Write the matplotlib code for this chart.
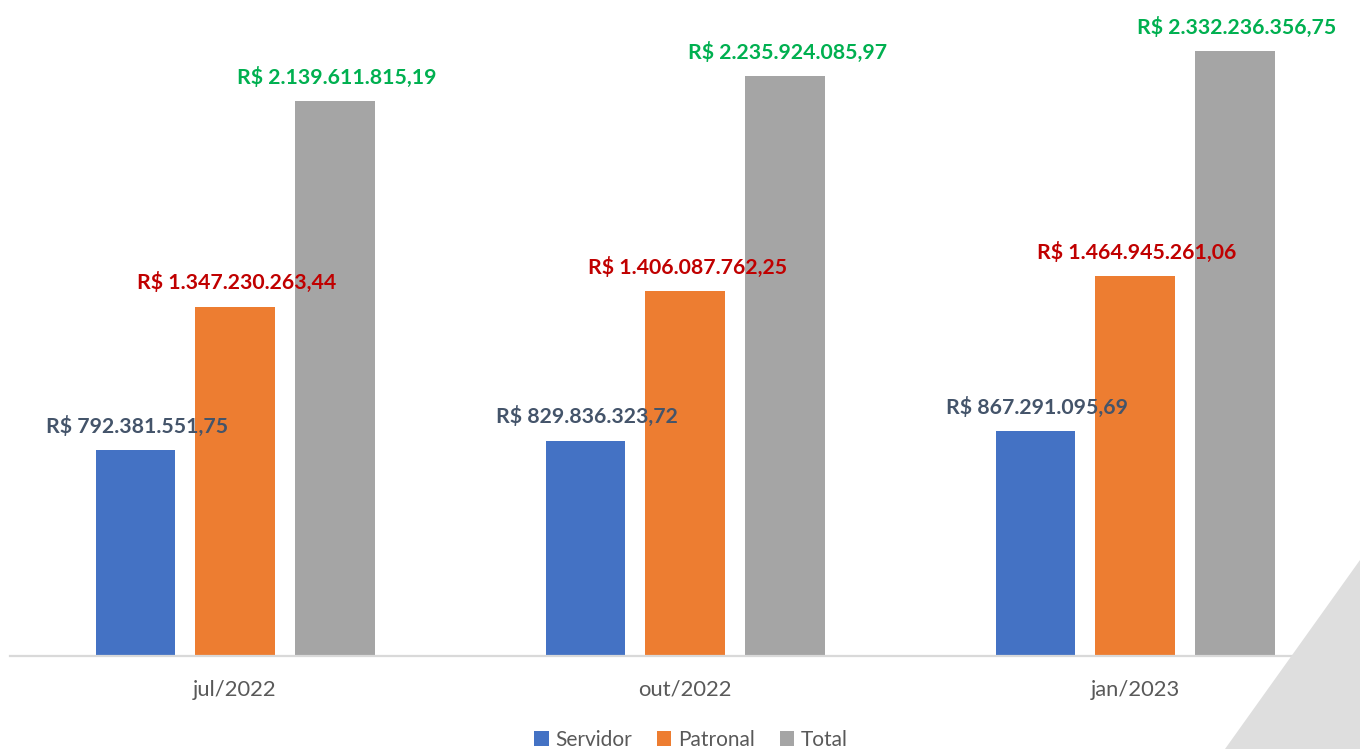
import matplotlib.pyplot as plt
from matplotlib.patches import Polygon
import numpy as np

# data
periods = ["jul/2022", "out/2022", "jan/2023"]
servidor = [792381551.75, 829836323.72, 867291095.69]
patronal = [1347230263.44, 1406087762.25, 1464945261.06]
total = [2139611815.19, 2235924085.97, 2332236356.75]

series_names = ["Servidor", "Patronal", "Total"]
bar_colors = ["#4472C4", "#ED7D31", "#A5A5A5"]
label_colors = ["#44546A", "#C00000", "#00B050"]


def brl(v):
    s = f"{v:,.2f}"
    s = s.replace(",", "X").replace(".", ",").replace("X", ".")
    return "R$ " + s


plt.rcParams['font.family'] = ['Lato', 'DejaVu Sans']

fig = plt.figure(figsize=(13.6, 7.49), dpi=100)

# light grey decoration in the bottom right corner
tri = Polygon([(1360 / 1360, 189 / 749), (1225 / 1360, 0), (1, 0)],
              closed=True, transform=fig.transFigure, facecolor="#DEDEDE",
              edgecolor="none", zorder=0)
fig.patches.append(tri)

ax = fig.add_axes([10 / 1360, 93 / 749, 1350 / 1360, 656 / 749])
ax.patch.set_alpha(0)

x = np.arange(len(periods))
width = 0.1756
step = 0.2222
all_series = [servidor, patronal, total]

for i, (vals, name) in enumerate(zip(all_series, series_names)):
    pos = x + (i - 1) * step
    ax.bar(pos, vals, width, color=bar_colors[i], label=name, zorder=2)
    for xp, v in zip(pos, vals):
        ax.annotate(brl(v), (xp, v), xytext=(1.5, 12.5), textcoords="offset points",
                    ha="center", va="baseline", fontsize=15.3, fontweight="bold",
                    color=label_colors[i])

ax.set_xlim(-0.5, 2.5)
ax.set_ylim(0, 2.529e9)
ax.set_xticks(x)
ax.set_xticklabels(periods, fontsize=15.8, color="#595959")
ax.tick_params(axis="x", length=0, pad=17)
ax.set_yticks([])
for side in ["top", "right", "left"]:
    ax.spines[side].set_visible(False)
ax.spines["bottom"].set_color("#D9D9D9")
ax.spines["bottom"].set_linewidth(1.6)

fig.legend(loc="lower center", bbox_to_anchor=(0.508, -0.026), ncol=3,
           frameon=False, fontsize=15, handlelength=0.7, handleheight=0.7,
           handletextpad=0.3, columnspacing=1.2, labelcolor="#595959")

fig.savefig("out.png", dpi=100)
